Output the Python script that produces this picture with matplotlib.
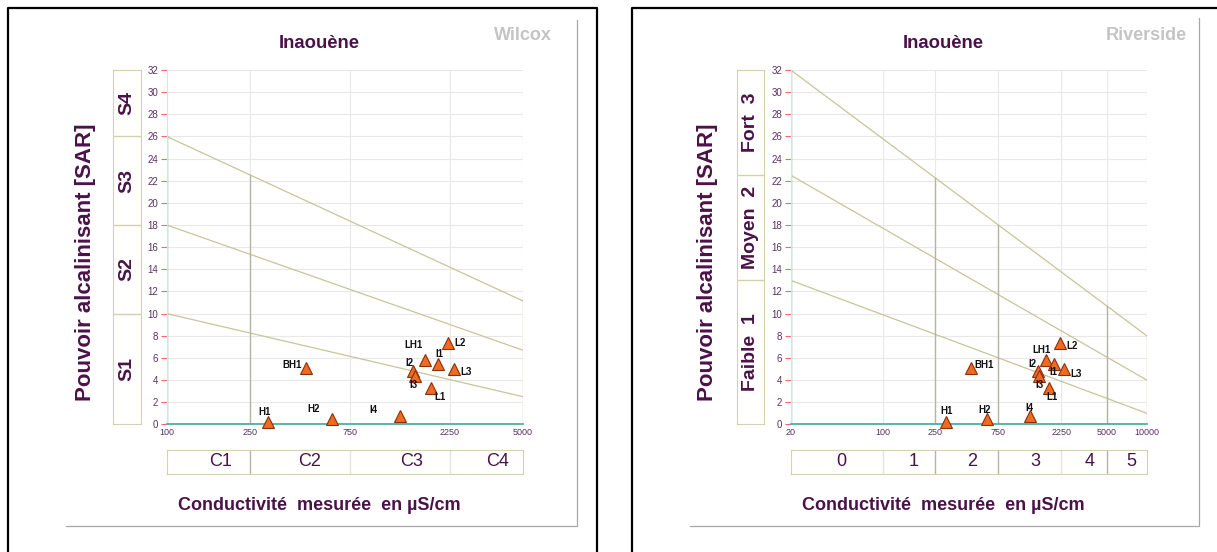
import matplotlib
matplotlib.use("Agg")
import matplotlib.pyplot as plt
from matplotlib.lines import Line2D

plt.rcParams['font.family'] = ['Liberation Sans', 'DejaVu Sans']

# Samples (same in both diagrams)
samples = ["H1", "H2", "I4", "BH1", "I2", "I3", "LH1", "L1", "I1", "L2", "L3"]
conductivity = [303, 612, 1300, 463, 1493, 1535, 1714, 1831, 1978, 2208, 2350]
sar = [0.25, 0.45, 0.72, 5.1, 4.84, 4.36, 5.77, 3.3, 5.41, 7.31, 4.96]

# Wilcox diagram
wil_xlim = [100, 5000]
wil_xticks = [100, 250, 750, 2250, 5000]
wil_line_start = [10, 18, 26]
wil_line_end = [2.5, 6.7, 11.15]
wil_bounds = [250]
wil_c_edges = [100, 250, 750, 2250, 5000]
wil_c_dark = [250]
wil_c_labels = ["C1", "C2", "C3", "C4"]
wil_c_pos = [180, 483, 1475, 3810]
wil_s_edges = [0, 10, 18, 26, 32]
wil_s_labels = ["S1", "S2", "S3", "S4"]

# Riverside diagram
riv_xlim = [20, 10000]
riv_xticks = [20, 100, 250, 750, 2250, 5000, 10000]
riv_line_start = [13, 22.5, 32]
riv_line_end = [1, 4, 8]
riv_bounds = [250, 750, 5000]
riv_c_edges = [20, 100, 250, 750, 2250, 5000, 10000]
riv_c_dark = [250, 750, 5000]
riv_c_labels = ["0", "1", "2", "3", "4", "5"]
riv_c_pos = [48, 172, 473, 1422, 3675, 7690]
riv_s_edges = [0, 13, 22.5, 32]
riv_s_labels = ["Faible  1", "Moyen  2", "Fort  3"]

# label offsets in pixels (dx, dy)
wil_offsets = [(-3, 10), (-18, 10), (-27, 6), (-14, 3), (-3, 8), (-2, -9),
               (-12, 15), (9, -9), (1, 10), (12, 0), (12, -3)]
riv_offsets = [(0, 11), (-2, 9), (0, 8), (13, 3), (-5, 7), (0, -9),
               (-4, 10), (3, -9), (0, -8), (12, -3), (12, -5)]

W, H = 1217, 552
PURPLE = "#4a1248"
TICKC = "#5a3060"
BOXC = "#d2d2b0"
LINEC = "#c8c49a"
DARKV = "#b4b4a0"


def box(x, y, w, h):
    return [x / W, 1 - (y + h) / H, w / W, h / H]


def line_at(x, xlim, y0, y1):
    import math
    f = (math.log10(x) - math.log10(xlim[0])) / (math.log10(xlim[1]) - math.log10(xlim[0]))
    return y0 + (y1 - y0) * f


def panel(fig, x0, yl_x, xlim, xticks, lstart, lend, bounds, c_edges, c_dark,
          c_labels, c_pos, s_x, s_w, s_edges, s_labels, offsets, name):
    ax = fig.add_axes(box(x0, 70, 356, 354.3))
    ax.set_xscale("log")
    ax.set_xlim(xlim)
    ax.set_ylim(0, 32)
    ax.set_yticks(range(0, 33, 2))
    ax.set_xticks(xticks)
    ax.set_xticklabels([str(t) for t in xticks])
    ax.minorticks_off()
    ax.tick_params(axis="y", colors="#ff6666", labelcolor=TICKC, labelsize=7,
                   length=4, width=0.8, pad=2)
    ax.tick_params(axis="x", length=0, labelcolor=TICKC, labelsize=6.5, pad=3)
    ax.grid(True, color="#e8e8e8", lw=0.8)
    ax.set_axisbelow(True)
    for s in ["top", "right"]:
        ax.spines[s].set_visible(False)
    ax.spines["left"].set_color("#b8f0f0")
    ax.spines["bottom"].set_color("#40a8a0")
    ax.spines["bottom"].set_linewidth(1.2)

    # classification lines
    for a, b in zip(lstart, lend):
        ax.plot(xlim, [a, b], color=LINEC, lw=0.9, zorder=2)
    ax.plot([xlim[0], xlim[0]], [0, lstart[-1]], color="#90c090", lw=1, zorder=2)
    ax.plot([xlim[1], xlim[1]], [0, lend[-1]], color=LINEC, lw=0.9, zorder=2)
    for b in bounds:
        ax.plot([b, b], [0, line_at(b, xlim, lstart[-1], lend[-1])],
                color=DARKV, lw=1, zorder=2)

    # samples
    ax.plot(conductivity, sar, ls="none", marker="^", ms=8, mfc="#f06a20",
            mec="#8a3008", mew=0.8, zorder=4, clip_on=False)
    for lab, xv, yv, off in zip(samples, conductivity, sar, offsets):
        ax.annotate(lab, (xv, yv), xytext=off, textcoords="offset pixels",
                    ha="center", va="center", fontsize=7, fontweight="bold",
                    color="#111111", zorder=5)

    # conductivity classes
    cx = fig.add_axes(box(x0, 450, 356, 24))
    cx.set_xscale("log")
    cx.set_xlim(xlim)
    cx.set_ylim(0, 1)
    cx.set_xticks([])
    cx.set_yticks([])
    cx.minorticks_off()
    for s in cx.spines.values():
        s.set_color(BOXC)
    for e in c_edges[1:-1]:
        cx.axvline(e, color=DARKV if e in c_dark else "#e4e4d8", lw=1)
    for lab, p in zip(c_labels, c_pos):
        cx.text(p, 0.5, lab, ha="center", va="center", fontsize=13, color=PURPLE)

    # SAR classes
    sx = fig.add_axes(box(s_x, 70, s_w, 354.3))
    sx.set_ylim(0, 32)
    sx.set_xlim(0, 1)
    sx.set_xticks([])
    sx.set_yticks([])
    for s in sx.spines.values():
        s.set_color(BOXC)
    for e in s_edges[1:-1]:
        sx.axhline(e, color=BOXC, lw=1)
    for lab, a, b in zip(s_labels, s_edges[:-1], s_edges[1:]):
        sx.text(0.5, (a + b) / 2, lab, rotation=90, ha="center", va="center",
                fontsize=14, fontweight="bold", color=PURPLE)

    cxp = x0 + 153
    fig.text(cxp / W, 1 - 44 / H, "Inaouène", ha="center", va="center",
             fontsize=13.3, fontweight="bold", color=PURPLE)
    fig.text((x0 + 356) / W, 1 - 36 / H, name, ha="center", va="center",
             fontsize=13, fontweight="bold", color="#c4c4c4")
    fig.text(yl_x / W, 1 - 262 / H, "Pouvoir alcalinisant [SAR]", rotation=90,
             ha="center", va="center", fontsize=16, fontweight="bold", color=PURPLE)
    fig.text((cxp) / W, 1 - 506 / H, "Conductivité  mesurée  en µS/cm",
             ha="center", va="center", fontsize=13, fontweight="bold", color=PURPLE)
    return ax


fig = plt.figure(figsize=(W / 100, H / 100), dpi=100)
fig.patch.set_facecolor("white")

panel(fig, 166.7, 86, wil_xlim, wil_xticks, wil_line_start, wil_line_end,
      wil_bounds, wil_c_edges, wil_c_dark, wil_c_labels, wil_c_pos,
      112.7, 28, wil_s_edges, wil_s_labels, wil_offsets, "Wilcox")
panel(fig, 790.7, 708, riv_xlim, riv_xticks, riv_line_start, riv_line_end,
      riv_bounds, riv_c_edges, riv_c_dark, riv_c_labels, riv_c_pos,
      737.3, 27, riv_s_edges, riv_s_labels, riv_offsets, "Riverside")


def fline(xs, ys, color, lw):
    fig.add_artist(Line2D([x / W for x in xs], [1 - y / H for y in ys],
                          color=color, lw=lw))


# outer black frames
fline([8, 8, 597, 597], [560, 8, 8, 560], "black", 1.6)
fline([632, 632, 1225], [560, 8, 8], "black", 1.6)
# inner grey frames
fline([66, 577, 577], [526, 526, 20], "#a8a8a8", 0.9)
fline([690, 1199, 1199], [526, 526, 18], "#a8a8a8", 0.9)

fig.savefig("out.png", dpi=100)
